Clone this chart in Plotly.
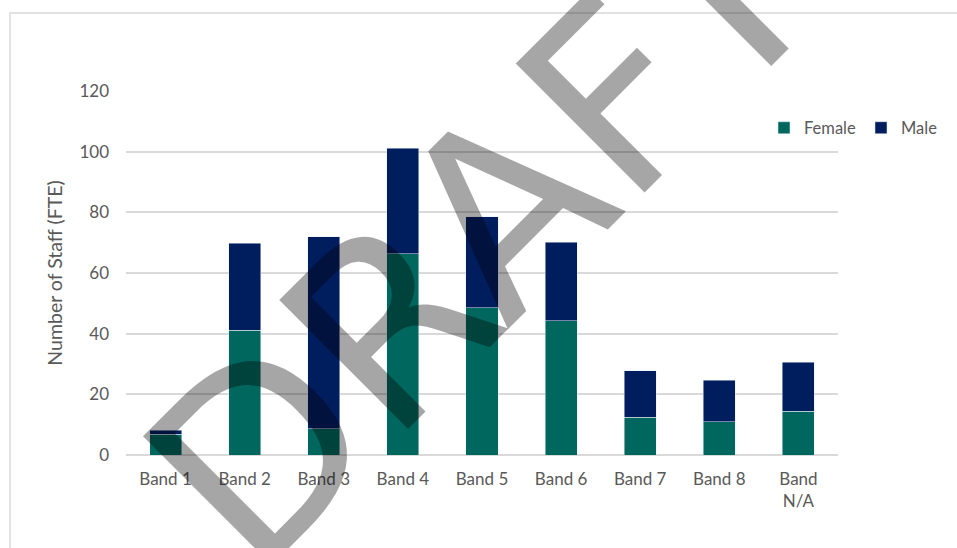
import plotly.graph_objects as go

# Staff numbers (FTE) by pay band, split by gender
bands = ["Band 1", "Band 2", "Band 3", "Band 4", "Band 5", "Band 6", "Band 7", "Band 8", "Band<br>N/A"]
female = [6.9, 41.2, 8.6, 66.3, 48.6, 44.2, 12.5, 10.9, 14.5]
male = [1.3, 28.6, 63.3, 34.8, 30.0, 26.0, 15.3, 13.7, 16.1]

y_ticks = [0, 20, 40, 60, 80, 100, 120]

FEMALE_COLOR = "#00675F"
MALE_COLOR = "#001D5E"
TEXT_COLOR = "#595959"
GRID_COLOR = "#D9D9D9"
FONT = "Lato"

W, H = 957, 548
L, R, T, B = 126, 119, 91, 93
PW, PH = W - L - R, H - T - B


def px_to_paper(px, py):
    return (px - L) / PW, (H - B - py) / PH


fig = go.Figure()
fig.add_trace(go.Bar(name="Female", x=bands, y=female, marker_color=FEMALE_COLOR))
fig.add_trace(go.Bar(name="Male", x=bands, y=male, marker_color=MALE_COLOR))

# light frame around the chart area
fx0, fy0 = px_to_paper(10, 13)
fx1, fy1 = px_to_paper(W + 20, H + 20)
fig.add_shape(type="rect", xref="paper", yref="paper", x0=fx0, y0=fy1, x1=fx1, y1=fy0,
              line=dict(color=GRID_COLOR, width=1.5), layer="below")

# diagonal DRAFT watermark
wx, wy = px_to_paper(483, 231)
fig.add_annotation(text="DRAFT", xref="paper", yref="paper", x=wx, y=wy,
                   xanchor="center", yanchor="middle", showarrow=False,
                   textangle=-45,
                   font=dict(family="DejaVu Sans", size=250, color="rgba(0,0,0,0.35)"))

lx, ly = px_to_paper(943, 128)
fig.update_layout(
    width=W, height=H,
    margin=dict(l=L, r=R, t=T, b=B, autoexpand=False),
    barmode="stack",
    bargap=0.595,
    plot_bgcolor="white",
    paper_bgcolor="white",
    font=dict(family=FONT, size=17, color=TEXT_COLOR),
    showlegend=True,
    legend=dict(orientation="h", x=lx, y=ly, xanchor="right", yanchor="middle",
                font=dict(size=16.5, color=TEXT_COLOR), bgcolor="rgba(0,0,0,0)",
                itemwidth=30, traceorder="normal"),
    xaxis=dict(showgrid=False, showline=False, zeroline=False, ticks="",
               ticklabelstandoff=12, tickfont=dict(size=17, color=TEXT_COLOR)),
    yaxis=dict(range=[0, 120], tickvals=y_ticks, showgrid=True, gridcolor=GRID_COLOR,
               gridwidth=1.5, zeroline=True, zerolinecolor=GRID_COLOR, zerolinewidth=1.5,
               showline=False, ticks="", ticklabelstandoff=16,
               tickfont=dict(size=17, color=TEXT_COLOR),
               title=dict(text="Number of Staff (FTE)", standoff=11,
                          font=dict(size=19.5, color=TEXT_COLOR))),
)

fig.write_html("out.html")
